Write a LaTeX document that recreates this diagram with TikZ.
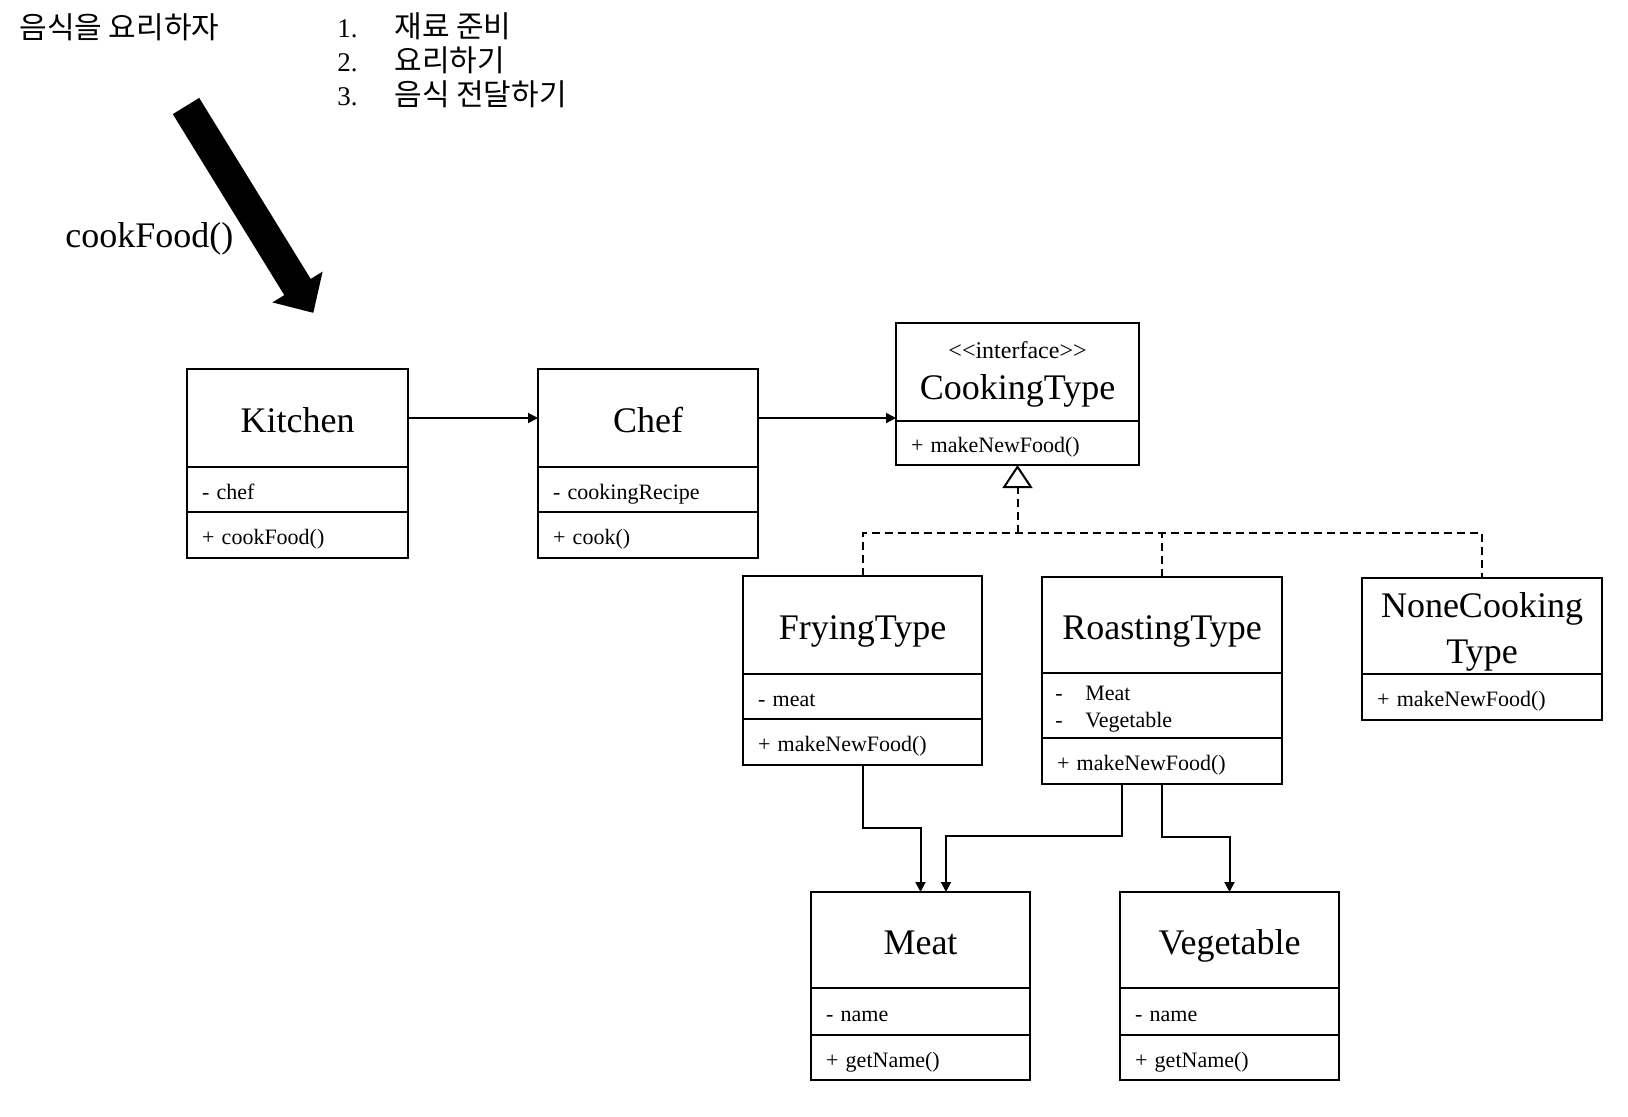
\documentclass[tikz,border=0pt]{standalone}
\usepackage{fontspec}
\setmainfont{Liberation Serif}
\newfontfamily\korfont{Noto Sans CJK KR}
\usetikzlibrary{arrows.meta}
\tikzset{
  titlebox/.style={draw, line width=1pt, anchor=north west, inner sep=0pt, outer sep=0pt,
    font=\fontsize{18}{21.5}\selectfont, text height=16pt, text depth=2pt},
  secbox/.style={draw, line width=1pt, anchor=north west, inner xsep=7.5pt, inner ysep=0pt,
    outer sep=0pt, align=left, font=\fontsize{11}{13.5}\selectfont},
  oneline/.style={text height=9.5pt, text depth=0pt},
  smalltext/.style={inner sep=0pt, font=\fontsize{11}{13.5}\selectfont},
  bigtext/.style={inner sep=0pt, font=\fontsize{18}{21.5}\selectfont},
  kortext/.style={inner sep=0pt, font=\korfont\fontsize{15}{18}\selectfont},
  numtext/.style={inner sep=0pt, font=\fontsize{13.5}{16}\selectfont},
  conn/.style={line width=1pt, -{Triangle[length=5pt,width=5pt]}},
  realize/.style={line width=1pt, dash pattern=on 4pt off 2.5pt},
}
\begin{document}
\begin{tikzpicture}[x=0.5pt,y=-0.5pt]
\useasboundingbox (0,0) rectangle (1628,1116);

% top-left texts
\node[kortext, anchor=base west] (head) at (19,38) {음식을 요리하자};
\node[numtext, anchor=base west] (n1) at (337,37) {1.};
\node[numtext, anchor=base west] (n2) at (337,71) {2.};
\node[numtext, anchor=base west] (n3) at (337,105) {3.};
\node[kortext, anchor=base west] (t1) at (394,37) {재료 준비};
\node[kortext, anchor=base west] (t2) at (394,71) {요리하기};
\node[kortext, anchor=base west] (t3) at (394,105) {음식 전달하기};

% big arrow and label
\fill (172.8,114.1) -- (199.2,97.9) -- (310.7,278.9) -- (322.6,271.6)
  -- (313.3,312.8) -- (272.4,302.4) -- (284.3,295.1) -- cycle;
\node[bigtext, anchor=base west] (cookLbl) at (65,247) {cookFood()};

% Kitchen
\node[titlebox, minimum width=110.5pt, minimum height=49pt] (kitT) at (187,369) {Kitchen};
\node[secbox, oneline, text width=95.5pt, minimum height=22.5pt] (kitA) at (187,467) {- chef};
\node[secbox, oneline, text width=95.5pt, minimum height=23pt] (kitM) at (187,512) {+ cookFood()};

% Chef
\node[titlebox, minimum width=110pt, minimum height=49pt] (chefT) at (538,369) {Chef};
\node[secbox, oneline, text width=95pt, minimum height=22.5pt] (chefA) at (538,467) {- cookingRecipe};
\node[secbox, oneline, text width=95pt, minimum height=23pt] (chefM) at (538,512) {+ cook()};

% CookingType
\node[titlebox, minimum width=121.5pt, minimum height=49pt] (ctT) at (896,323) {};
\node[inner sep=0pt, font=\fontsize{12}{14}\selectfont, anchor=base] (ctS) at (1017.5,358)
  {\textless\kern0pt\textless\kern0pt interface\kern0pt\textgreater\kern0pt\textgreater};
\node[bigtext, anchor=base] (ctN) at (1017.5,399) {CookingType};
\node[secbox, oneline, text width=106.5pt, minimum height=22pt] (ctM) at (896,421) {+ makeNewFood()};

% FryingType
\node[titlebox, minimum width=119.5pt, minimum height=49pt] (frT) at (743,576) {FryingType};
\node[secbox, oneline, text width=104.5pt, minimum height=22.5pt] (frA) at (743,674) {- meat};
\node[secbox, oneline, text width=104.5pt, minimum height=23pt] (frM) at (743,719) {+ makeNewFood()};

% RoastingType
\node[titlebox, minimum width=120pt, minimum height=48pt] (rtT) at (1042,577) {RoastingType};
\node[secbox, text width=105pt, minimum height=32.5pt] (rtA) at (1042,673) {};
\node[smalltext, anchor=base west] (rtA1) at (1055,700) {\makebox[15pt][l]{-}Meat};
\node[smalltext, anchor=base west] (rtA2) at (1055,727) {\makebox[15pt][l]{-}Vegetable};
\node[secbox, oneline, text width=105pt, minimum height=23pt] (rtM) at (1042,738) {+ makeNewFood()};

% NoneCookingType
\node[titlebox, minimum width=120pt, minimum height=48pt] (ncT) at (1362,578) {};
\node[bigtext, anchor=base] (ncN1) at (1482,617) {NoneCooking};
\node[bigtext, anchor=base] (ncN2) at (1482,663) {Type};
\node[secbox, oneline, text width=105pt, minimum height=23pt] (ncM) at (1362,674) {+ makeNewFood()};

% Meat
\node[titlebox, minimum width=109.5pt, minimum height=48pt] (meatT) at (811,892) {Meat};
\node[secbox, oneline, text width=94.5pt, minimum height=23.5pt] (meatA) at (811,988) {- name};
\node[secbox, oneline, text width=94.5pt, minimum height=22.5pt] (meatM) at (811,1035) {+ getName()};

% Vegetable
\node[titlebox, minimum width=109.5pt, minimum height=48pt] (vegT) at (1120,892) {Vegetable};
\node[secbox, oneline, text width=94.5pt, minimum height=23.5pt] (vegA) at (1120,988) {- name};
\node[secbox, oneline, text width=94.5pt, minimum height=22.5pt] (vegM) at (1120,1035) {+ getName()};

% associations
\draw[conn] (kitT.east) -- (chefT.west);
\draw[conn] (chefT.east) -- (chefT.east -| ctT.west);

% realizations
\coordinate (gen) at (1017.5,533);
\draw[realize] (frT.north) -- (frT.north |- gen) -- (ncT.north |- gen) -- (ncT.north);
\draw[realize] (rtT.north) -- (rtT.north |- gen);
\draw[realize, -{Triangle[open, length=11.5pt, width=15pt, line width=1pt]}] (gen) -- (ctM.south);

% dependencies to Meat / Vegetable
\draw[conn] (frM.south) -- ++(0,63) -| (meatT.north);
\draw[conn] ([xshift=-20pt]rtM.south) -- ++(0,52) -| ([xshift=12.75pt]meatT.north);
\draw[conn] (rtM.south) -- ++(0,53) -| (vegT.north);
\end{tikzpicture}
\end{document}
